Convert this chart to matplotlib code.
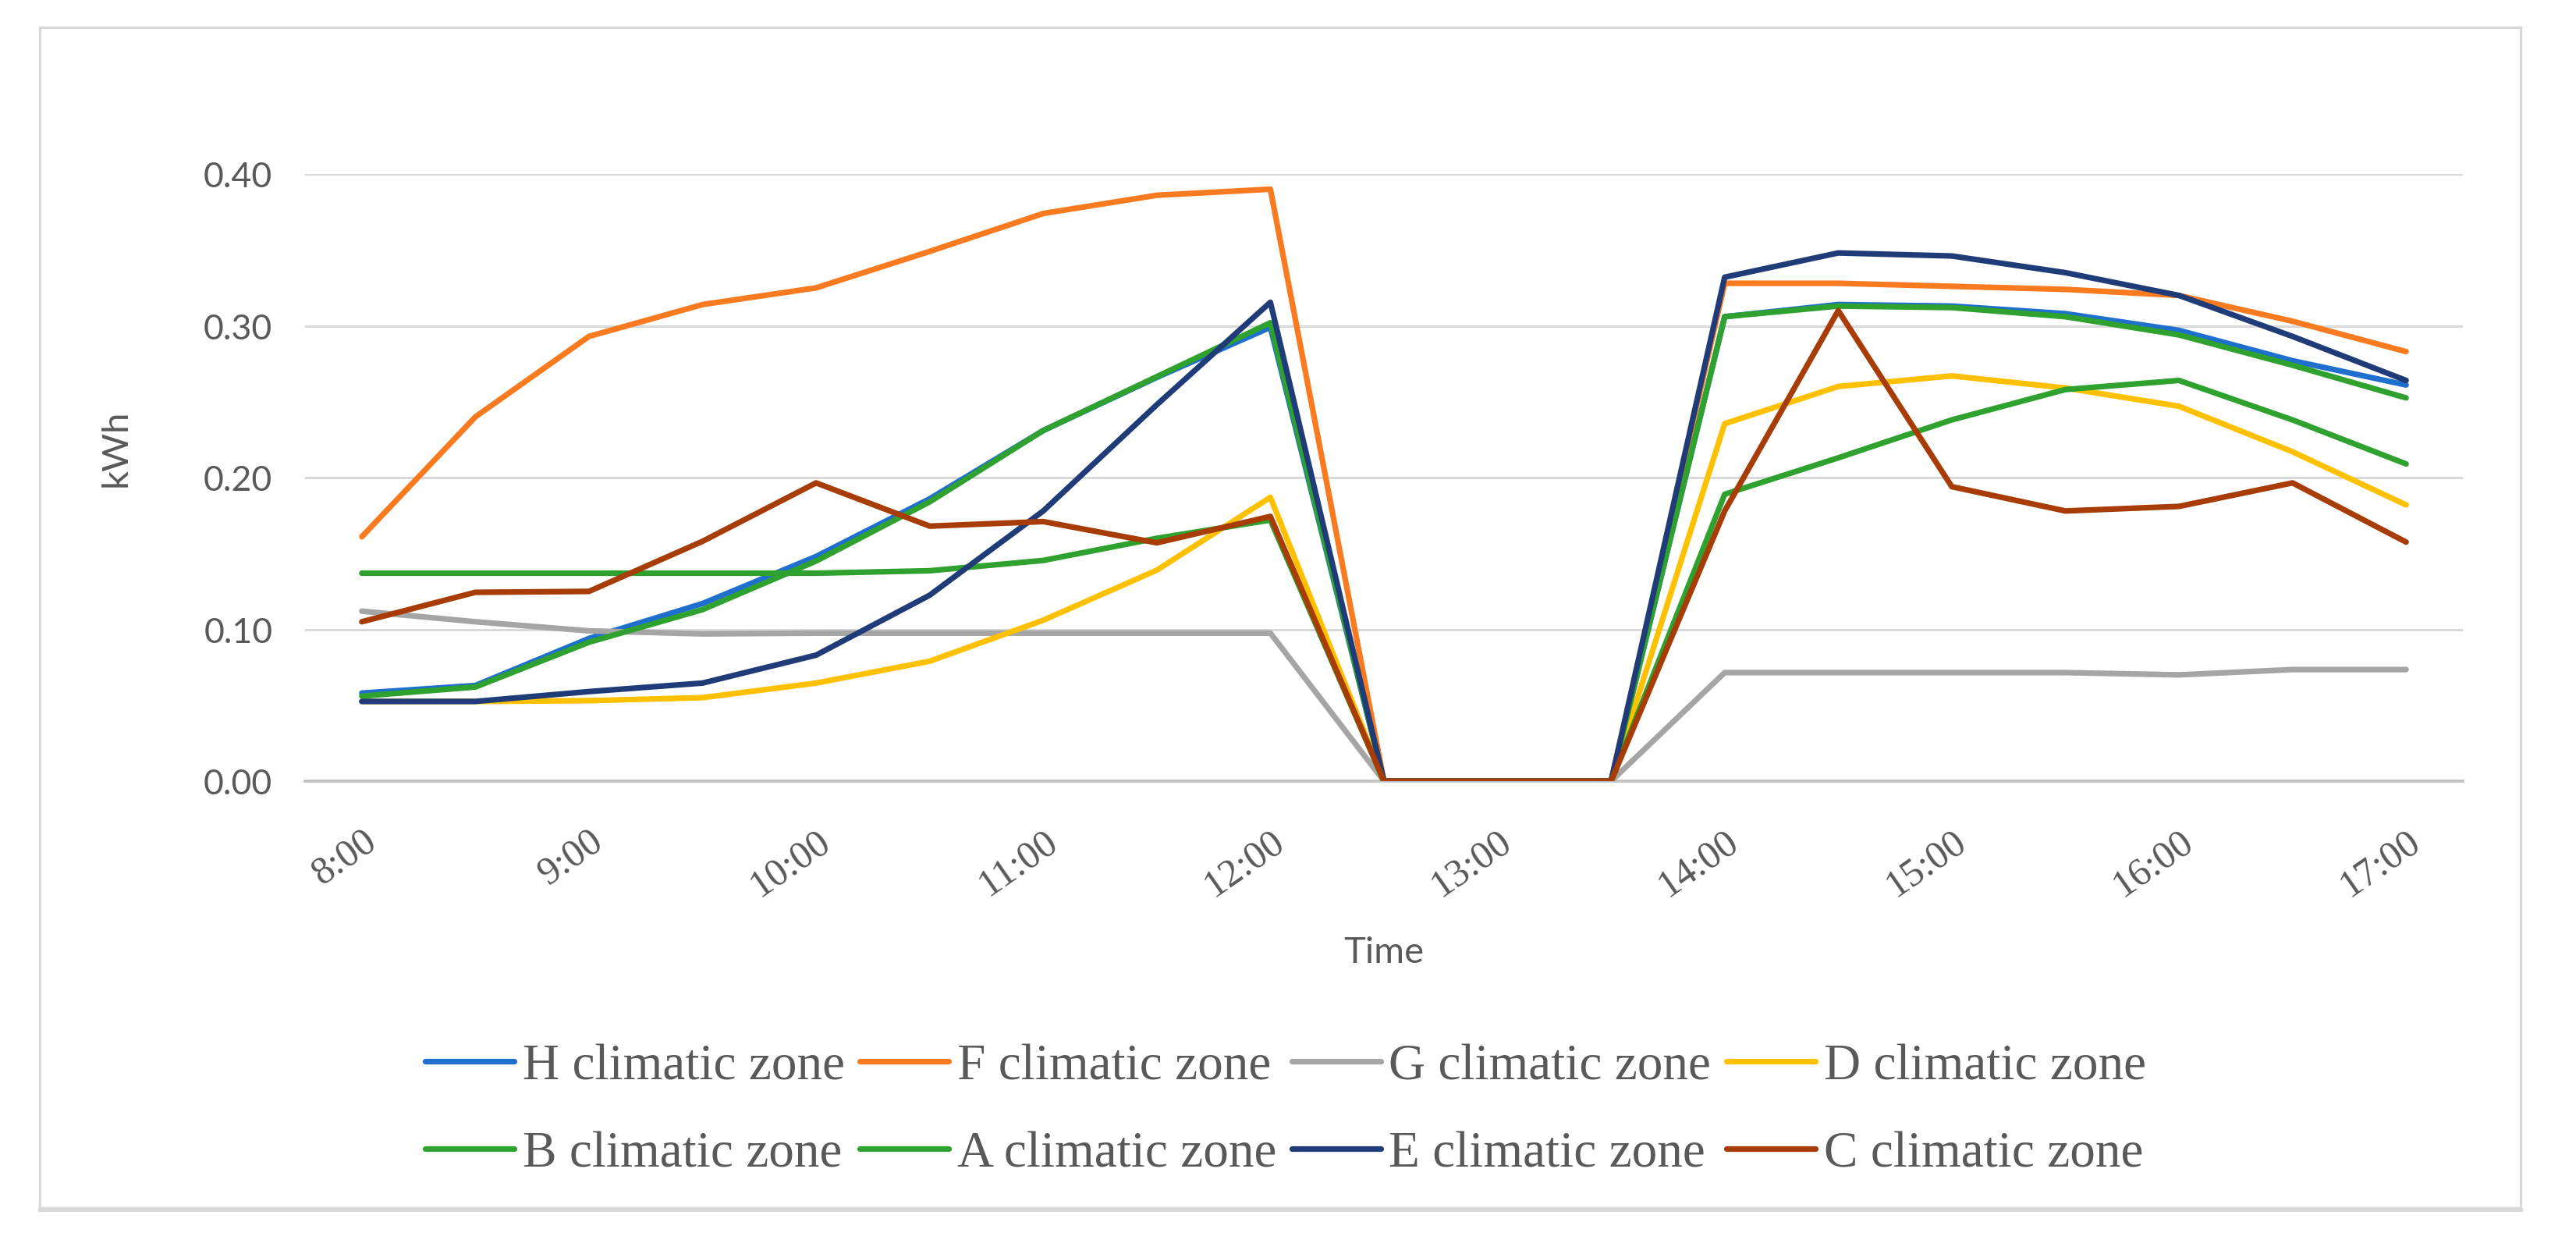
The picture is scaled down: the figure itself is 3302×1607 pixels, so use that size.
import matplotlib
matplotlib.use("Agg")
import matplotlib.pyplot as plt
from matplotlib.patches import Rectangle
import numpy as np

times = ["8:00", "8:30", "9:00", "9:30", "10:00", "10:30", "11:00", "11:30", "12:00",
         "12:30", "13:00", "13:30", "14:00", "14:30", "15:00", "15:30", "16:00", "16:30", "17:00"]

H_zone = [0.058, 0.063, 0.094, 0.117, 0.148, 0.186, 0.231, 0.266, 0.299, 0, 0, 0,
          0.306, 0.314, 0.313, 0.308, 0.297, 0.277, 0.261]
F_zone = [0.161, 0.240, 0.293, 0.314, 0.325, 0.349, 0.374, 0.386, 0.390, 0, 0, 0,
          0.328, 0.328, 0.326, 0.324, 0.320, 0.303, 0.283]
G_zone = [0.112, 0.105, 0.099, 0.097, 0.0975, 0.0975, 0.0975, 0.0975, 0.0975, 0, 0, 0,
          0.0715, 0.0715, 0.0715, 0.0715, 0.070, 0.0735, 0.0735]
D_zone = [0.0525, 0.0525, 0.053, 0.055, 0.0646, 0.079, 0.106, 0.139, 0.187, 0, 0, 0,
          0.2355, 0.260, 0.267, 0.259, 0.247, 0.217, 0.182]
B_zone = [0.137, 0.137, 0.137, 0.137, 0.137, 0.1386, 0.1454, 0.160, 0.172, 0, 0, 0,
          0.189, 0.213, 0.238, 0.258, 0.264, 0.238, 0.209]
A_zone = [0.056, 0.062, 0.0915, 0.113, 0.145, 0.184, 0.231, 0.2665, 0.302, 0, 0, 0,
          0.306, 0.313, 0.312, 0.306, 0.294, 0.274, 0.2525]
E_zone = [0.0525, 0.0525, 0.059, 0.0646, 0.083, 0.1225, 0.178, 0.248, 0.3155, 0, 0, 0,
          0.332, 0.348, 0.346, 0.335, 0.320, 0.293, 0.264]
C_zone = [0.105, 0.1244, 0.125, 0.158, 0.1965, 0.168, 0.171, 0.157, 0.1744, 0, 0, 0,
          0.178, 0.310, 0.194, 0.178, 0.181, 0.1965, 0.1575]

series_names = ["H climatic zone", "F climatic zone", "G climatic zone", "D climatic zone",
                "B climatic zone", "A climatic zone", "E climatic zone", "C climatic zone"]
series_values = [H_zone, F_zone, G_zone, D_zone, B_zone, A_zone, E_zone, C_zone]
series_colors = ["#1F6FCF", "#F97A1F", "#A5A5A5", "#FFC000",
                 "#2EA12E", "#2EA12E", "#1F3C78", "#A83C06"]

y_ticks = [0.0, 0.1, 0.2, 0.3, 0.4]

W, H = 3302, 1608
dpi = 200
fig = plt.figure(figsize=(W / dpi, H / dpi), dpi=dpi)

# outer chart border
fig.patches.append(Rectangle((51 / W, 1 - 1549 / H), (3231 - 51) / W, (1549 - 36) / H,
                             transform=fig.transFigure, fill=False,
                             edgecolor="#D9D9D9", linewidth=1.2, zorder=0))
fig.add_artist(plt.Line2D([51 / W, 3231 / W], [1 - 1551 / H, 1 - 1551 / H],
                          transform=fig.transFigure, color="#D9D9D9", linewidth=1.8))

ax = fig.add_axes([391 / W, 1 - 1002 / H, (3157 - 391) / W, (1002 - 224) / H])
x = np.arange(len(times))
lines = []
for name, vals, col in zip(series_names, series_values, series_colors):
    ln, = ax.plot(x, vals, color=col, linewidth=2.6, label=name, solid_joinstyle="round",
                  solid_capstyle="round", zorder=3)
    lines.append(ln)

ax.set_xlim(-0.5, len(times) - 0.5)
ax.set_ylim(0, 0.40)
ax.set_yticks(y_ticks)
ax.set_yticklabels([f"{v:.2f}" for v in y_ticks], fontsize=16, family="Lato", color="#595959")
ax.yaxis.grid(True, color="#D9D9D9", linewidth=1.1, zorder=0)
ax.set_axisbelow(True)
ax.tick_params(axis="y", length=0, pad=15)

ax.set_xticks(x[::2])
ax.set_xticklabels(times[::2], fontsize=18, family="Liberation Serif", color="#595959",
                   rotation=35, ha="right", va="top", rotation_mode="anchor")
ax.tick_params(axis="x", length=0, pad=19)

for s in ["top", "right", "left"]:
    ax.spines[s].set_visible(False)
ax.spines["bottom"].set_color("#BFBFBF")
ax.spines["bottom"].set_linewidth(1.3)

ax.set_ylabel("kWh", fontsize=17, family="Lato", color="#595959")
ax.yaxis.set_label_coords((170 - 391) / (3157 - 391), 0.55)
ax.set_xlabel("Time", fontsize=17, family="Lato", color="#595959")
ax.xaxis.set_label_coords(0.5, -(1200 - 1002) / (1002 - 224))

# legend filled row by row (matplotlib fills column-wise)
order = [0, 4, 1, 5, 2, 6, 3, 7]
fig.legend([lines[i] for i in order], [series_names[i] for i in order],
           loc="center", bbox_to_anchor=(0.499, 1 - 1424 / H), ncol=4, frameon=False,
           prop={"family": "Liberation Serif", "size": 23.5}, labelcolor="#595959",
           handlelength=1.75, handletextpad=0.16, columnspacing=0.3, labelspacing=0.8)

fig.savefig("out.png", dpi=dpi, facecolor="white")
